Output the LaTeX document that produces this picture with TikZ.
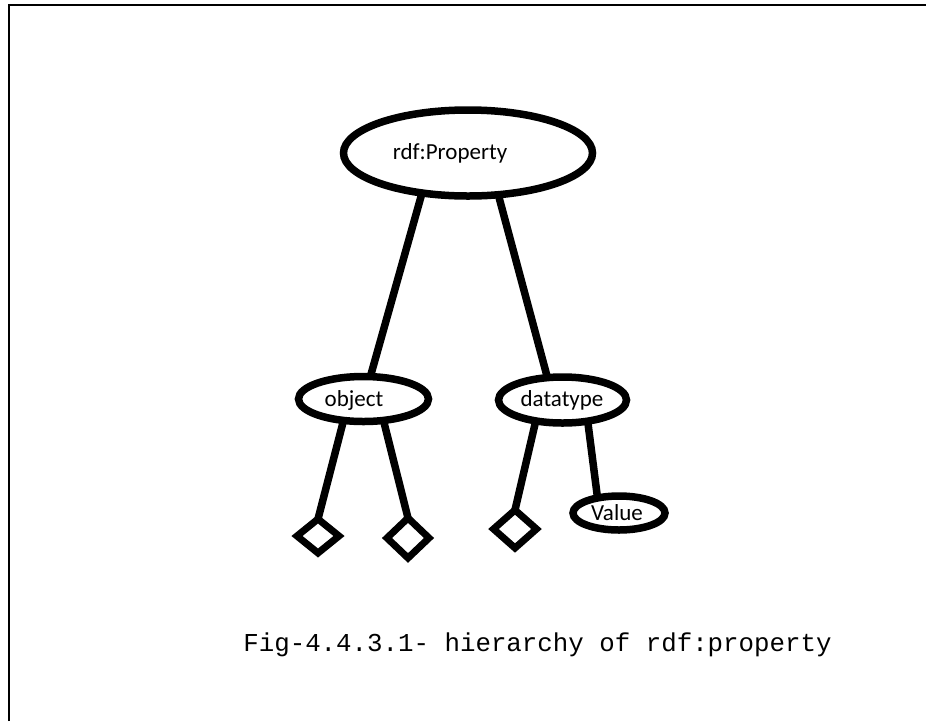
\documentclass[tikz,border=0pt]{standalone}
\usepackage{fontspec}
\setmainfont{Carlito}
\newfontfamily\capfont{Liberation Mono}
\usetikzlibrary{shapes.geometric}

\begin{document}
\begin{tikzpicture}[x=1pt,y=-1pt,
  oval/.style={ellipse, draw, line width=7.5pt, inner sep=0pt, outer sep=0pt},
  gem/.style={diamond, draw, line width=7pt, inner sep=0pt, outer sep=0pt},
  link/.style={line width=7.5pt},
  lbl/.style={font=\fontsize{23}{26}\selectfont, inner sep=0pt}]
\useasboundingbox (0,0) rectangle (926,721);

% frame lines along the top and left edges
\draw[line width=2.5pt] (9,721) -- (9,5) -- (926,5);

% ellipses
\node[oval, minimum width=249, minimum height=86] (prop) at (468,153) {};
\node[oval, minimum width=130, minimum height=45] (obj) at (363.5,399) {};
\node[oval, minimum width=128, minimum height=46] (dt) at (562.5,400) {};
\node[oval, minimum width=92, minimum height=34] (val) at (619,513) {};

% their labels
\node[lbl] (tprop) at (450,153) {rdf:Property};
\node[lbl] (tobj) at (354,400) {object};
\node[lbl] (tdt) at (562,400) {datatype};
\node[lbl] (tval) at (617,513) {Value};

% diamonds
\node[gem, minimum width=42, minimum height=34] (d1) at (318,536) {};
\node[gem, minimum width=42, minimum height=40] (d2) at (408,538) {};
\node[gem, minimum width=43, minimum height=38] (d3) at (515,529) {};

% connectors
\draw[link] (prop.221) -- (obj.73);
\draw[link] (prop.306) -- (dt.124);
\draw[link] (obj.227) -- (d1.north);
\draw[link] (obj.313) -- (d2.north);
\draw[link] (dt.218) -- (d3.north);
\draw[link] (dt.320) -- (val.145);

% caption
\node[font=\capfont\fontsize{25.8}{30}\selectfont, anchor=base, inner sep=0pt] (cap)
  at (537.5,651) {Fig-4.4.3.1- hierarchy of rdf:property};
\end{tikzpicture}
\end{document}
